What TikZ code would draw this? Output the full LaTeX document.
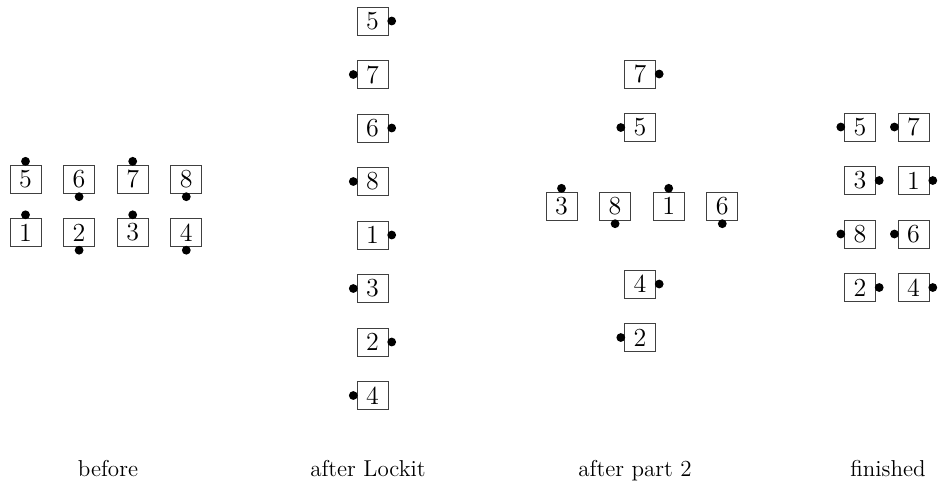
\documentclass[tikz,border=0pt]{standalone}
\usepackage{tikz}
\usetikzlibrary{positioning}

\begin{document}
\begin{tikzpicture}[
    x=0.5pt, y=-0.5pt,
    node distance=12.25pt and 10.8pt,
    card/.style={rectangle, draw=black!75, line width=0.5pt, minimum width=15.5pt, minimum height=14pt, inner sep=0pt, font=\fontsize{13}{15}\selectfont},
    caption/.style={anchor=base, font=\fontsize{11.5}{13}\selectfont},
    dot/.style={fill=black}
]
    \useasboundingbox (0,0) rectangle (939,484);

    % before
    \node (a5) [card] at (25.5,179) {5};
    \node (a6) [card, right=of a5] {6};
    \node (a7) [card, right=of a6] {7};
    \node (a8) [card, right=of a7] {8};
    \node (a1) [card, below=of a5] {1};
    \node (a2) [card, below=of a6] {2};
    \node (a3) [card, below=of a7] {3};
    \node (a4) [card, below=of a8] {4};
    \fill [dot] ([yshift=1.6pt]a5.north) circle (2.2pt);
    \fill [dot] ([yshift=-1.6pt]a6.south) circle (2.2pt);
    \fill [dot] ([yshift=1.6pt]a7.north) circle (2.2pt);
    \fill [dot] ([yshift=-1.6pt]a8.south) circle (2.2pt);
    \fill [dot] ([yshift=1.6pt]a1.north) circle (2.2pt);
    \fill [dot] ([yshift=-1.6pt]a2.south) circle (2.2pt);
    \fill [dot] ([yshift=1.6pt]a3.north) circle (2.2pt);
    \fill [dot] ([yshift=-1.6pt]a4.south) circle (2.2pt);

    % after Lockit
    \node (l5) [card] at (372.5,21) {5};
    \node (l7) [card, below=of l5] {7};
    \node (l6) [card, below=of l7] {6};
    \node (l8) [card, below=of l6] {8};
    \node (l1) [card, below=of l8] {1};
    \node (l3) [card, below=of l1] {3};
    \node (l2) [card, below=of l3] {2};
    \node (l4) [card, below=of l2] {4};
    \fill [dot] ([xshift=1.6pt]l5.east) circle (2.2pt);
    \fill [dot] ([xshift=-1.6pt]l7.west) circle (2.2pt);
    \fill [dot] ([xshift=1.6pt]l6.east) circle (2.2pt);
    \fill [dot] ([xshift=-1.6pt]l8.west) circle (2.2pt);
    \fill [dot] ([xshift=1.6pt]l1.east) circle (2.2pt);
    \fill [dot] ([xshift=-1.6pt]l3.west) circle (2.2pt);
    \fill [dot] ([xshift=1.6pt]l2.east) circle (2.2pt);
    \fill [dot] ([xshift=-1.6pt]l4.west) circle (2.2pt);

    % after part 2
    \node (p7) [card] at (640,74) {7};
    \node (p5) [card, below=of p7] {5};
    \node (p3) [card] at (561.5,206) {3};
    \node (p8) [card, right=of p3] {8};
    \node (p1) [card, right=of p8] {1};
    \node (p6) [card, right=of p1] {6};
    \node (p4) [card] at (640,284) {4};
    \node (p2) [card, below=of p4] {2};
    \fill [dot] ([xshift=1.6pt]p7.east) circle (2.2pt);
    \fill [dot] ([xshift=-1.6pt]p5.west) circle (2.2pt);
    \fill [dot] ([yshift=1.6pt]p3.north) circle (2.2pt);
    \fill [dot] ([yshift=-1.6pt]p8.south) circle (2.2pt);
    \fill [dot] ([yshift=1.6pt]p1.north) circle (2.2pt);
    \fill [dot] ([yshift=-1.6pt]p6.south) circle (2.2pt);
    \fill [dot] ([xshift=1.6pt]p4.east) circle (2.2pt);
    \fill [dot] ([xshift=-1.6pt]p2.west) circle (2.2pt);

    % finished
    \node (f5) [card] at (860,127) {5};
    \node (f7) [card, right=of f5] {7};
    \node (f3) [card, below=of f5] {3};
    \node (f1) [card, below=of f7] {1};
    \node (f8) [card, below=of f3] {8};
    \node (f6) [card, below=of f1] {6};
    \node (f2) [card, below=of f8] {2};
    \node (f4) [card, below=of f6] {4};
    \fill [dot] ([xshift=-1.6pt]f5.west) circle (2.2pt);
    \fill [dot] ([xshift=-1.6pt]f7.west) circle (2.2pt);
    \fill [dot] ([xshift=1.6pt]f3.east) circle (2.2pt);
    \fill [dot] ([xshift=1.6pt]f1.east) circle (2.2pt);
    \fill [dot] ([xshift=-1.6pt]f8.west) circle (2.2pt);
    \fill [dot] ([xshift=-1.6pt]f6.west) circle (2.2pt);
    \fill [dot] ([xshift=1.6pt]f2.east) circle (2.2pt);
    \fill [dot] ([xshift=1.6pt]f4.east) circle (2.2pt);

    % captions
    \node (cap1) [caption] at (108,476) {before};
    \node (cap2) [caption] at (368,476) {after Lockit};
    \node (cap3) [caption] at (635,476) {after part 2};
    \node (cap4) [caption] at (888,476) {finished};
\end{tikzpicture}
\end{document}
